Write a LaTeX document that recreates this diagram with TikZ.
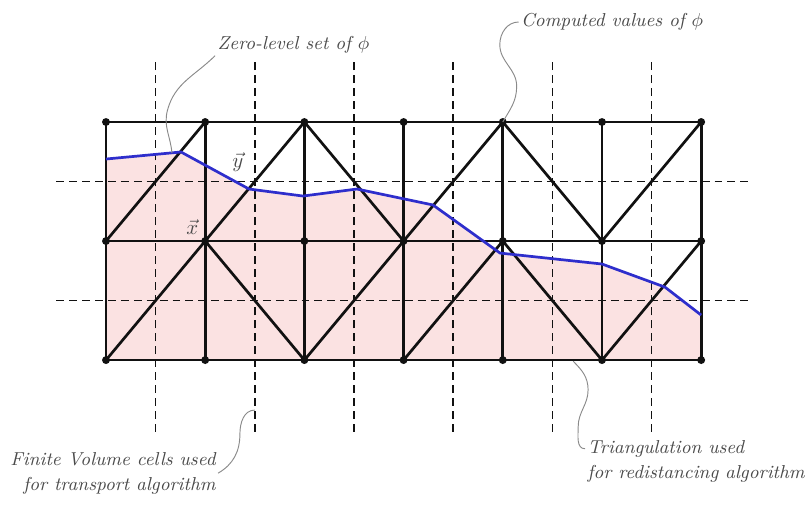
\documentclass[tikz,border=0pt]{standalone}
\usepackage{amsmath,amssymb}
\usetikzlibrary{calc}
\definecolor{cMesh}{HTML}{111111}
\definecolor{cLevel}{HTML}{2E2ECC}
\definecolor{cFluid}{HTML}{FBE2E2}
\definecolor{cNote}{HTML}{4A4A4A}
\definecolor{cLead}{HTML}{8A8A8A}

\begin{document}
\begin{tikzpicture}[
  x=1.675cm, y=2.01cm,
  font=\normalsize,
  mesh/.style={draw=cMesh, line width=1.3pt, line cap=round},
  fvline/.style={draw=cMesh, line width=.8pt, dash pattern=on 3.8pt off 2.4pt},
  vtx/.style={circle, fill=cMesh, inner sep=0pt, minimum size=3.8pt},
  level/.style={draw=cLevel, line width=1.3pt, line join=round},
  lead/.style={draw=cLead, line width=.45pt},
  note/.style={font=\fontsize{9pt}{12pt}\selectfont\itshape, text=cNote, inner sep=1pt},
  vlab/.style={text=cNote, inner sep=1pt},
]
\useasboundingbox (-1.0685,-1.227) rectangle (7.107,3.025);

% ---------------- mesh vertices ----------------
\foreach \i in {0,...,6}{
  \foreach \j in {0,1,2}{
    \coordinate (v\i\j) at (\i,\j);}}

% ---------------- zero-level set, fluid side ----------------
\foreach \px/\py [count=\k] in {0/1.689, 0.756/1.748, 1.442/1.437, 1.986/1.378,
    2.530/1.437, 3.296/1.303, 3.972/0.899, 5.0/0.807, 5.635/0.613, 6/0.378}
  \coordinate (z\k) at (\px,\py);
\fill[cFluid] (v00) \foreach \k in {1,...,10}{ -- (z\k)} -- (v60) -- cycle;

% ---------------- finite volume cells ----------------
\foreach \i in {0,...,5}
  \draw[fvline] (\i+0.5,-0.6) -- (\i+0.5,2.52);
\foreach \j in {0,1}
  \draw[fvline] (-0.5,\j+0.5) -- (6.5,\j+0.5);

% ---------------- triangulation ----------------
\foreach \i in {0,...,6}
  \draw[mesh] (v\i0) -- (v\i2);
\foreach \j in {0,1,2}
  \draw[mesh] (v0\j) -- (v6\j);
\foreach \i/\j in {0/0, 2/0, 3/0, 5/0, 0/1, 1/1, 3/1, 5/1}{
  \pgfmathtruncatemacro{\ii}{\i+1}\pgfmathtruncatemacro{\jj}{\j+1}
  \draw[mesh] (v\i\j) -- (v\ii\jj);}
\foreach \i/\j in {1/0, 4/0, 2/1, 4/1}{
  \pgfmathtruncatemacro{\ii}{\i+1}\pgfmathtruncatemacro{\jj}{\j+1}
  \draw[mesh] (v\i\jj) -- (v\ii\j);}

\draw[level] (z1) \foreach \k in {2,...,10}{ -- (z\k)};

\foreach \i in {0,...,6}{
  \foreach \j in {0,1,2}{
    \node[vtx] (d\i\j) at (v\i\j) {};}}

\node[vlab] (lx) at (0.87,1.12) {$\vec{x}$};
\node[vlab] (ly) at (1.33,1.66) {$\vec{y}$};

% ---------------- labels and leaders ----------------
\node[note, anchor=west] (zls) at (1.10,2.65) {Zero-level set of $\phi$};
\node[note, anchor=west] (cval) at (4.16,2.84) {Computed values of $\phi$};
\node[note, anchor=east, align=right] (fvc) at (1.13,-0.95)
  {Finite Volume cells used\\for transport algorithm};
\node[note, anchor=west, align=left] (tri) at (4.83,-0.85)
  {Triangulation used\\for redistancing algorithm};

\coordinate (zpt) at (0.665,1.74);
\coordinate (fend) at (1.5,-0.42);
\coordinate (tstart) at (4.71,-0.01);

\draw[lead] (zls.south west) to[out=-135,in=75] (0.62,2.1) to[out=-105,in=95] (zpt);
\draw[lead] (cval.west) to[out=180,in=90] (3.97,2.65) to[out=-90,in=90] (4.14,2.3)
  to[out=-90,in=60] (v42);
\draw[lead] (fvc.east) to[out=30,in=-90] (1.35,-0.62) to[out=90,in=180] (fend);
\draw[lead] (tstart) to[out=-45,in=90] (4.86,-0.25) to[out=-90,in=90] (4.76,-0.56)
  to[out=-90,in=180] ([yshift=6pt]tri.west);

\end{tikzpicture}
\end{document}
